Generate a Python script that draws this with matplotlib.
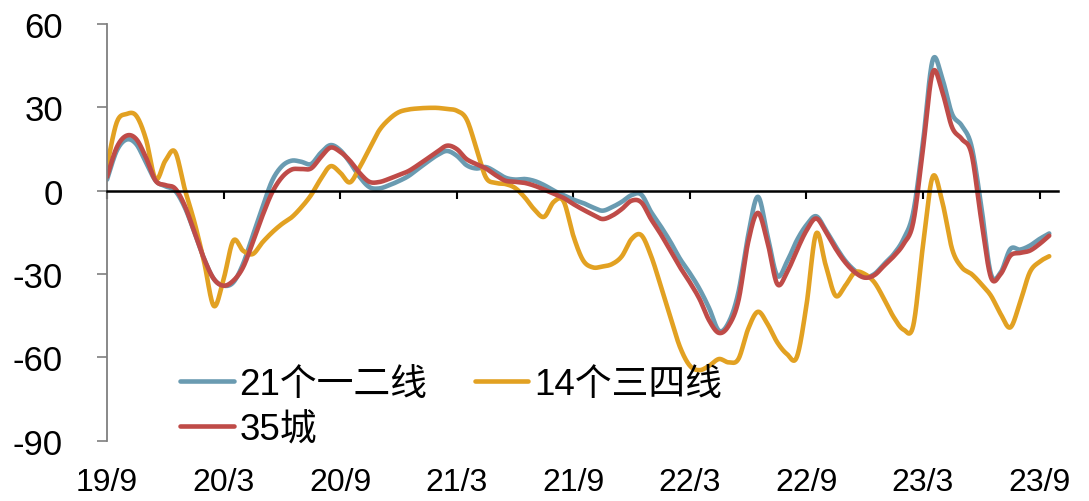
import numpy as np
import matplotlib
matplotlib.use("Agg")
import matplotlib.pyplot as plt
from matplotlib import transforms

plt.rcParams['font.family'] = ['Liberation Sans', 'Noto Sans CJK SC', 'DejaVu Sans']

# Half-monthly readings, Sep 2019 onward (index / 2 = months since 2019-09)
tier12 = [4, 14.4, 18.4, 16.8, 10.2, 3.6, 1.6, 0, -6, -15,
          -24.6, -31.8, -34.2, -33, -26.4, -16.2, -6, 3.6, 8.8, 10.8,
          10.4, 9.6, 13.6, 16.4, 14.6, 10.2, 5, 1.3, 0.8, 1.9,
          3.4, 5.2, 7.8, 10.4, 12.8, 14.3, 12.6, 9.2, 8, 8.5,
          6.8, 4.7, 4, 4.2, 3.5, 2, 0, -1.6, -3.2, -4.4,
          -6, -7.2, -5.9, -4, -1.6, -1.4, -7.6, -12.8, -18.4, -24.6,
          -29.7, -35.4, -42.4, -50.4, -47.4, -36.6, -16.2, -2.2, -16.2, -30.6,
          -25.6, -18, -12.4, -9.2, -14.2, -20, -25.2, -28.8, -31.1, -30,
          -26.4, -22.8, -17.4, -7.8, 17.4, 47, 40.2, 27.6, 23.4, 16,
          -5.5, -30, -29.4, -21, -21.2, -19.8, -17.4, -15.4]

tier34 = [9, 24.6, 27.6, 27, 18.6, 4.2, 10.8, 14, 0.6, -11.4,
          -25.8, -41.5, -31.8, -18, -21.6, -22.8, -18.6, -15, -12, -9.6,
          -6, -1.6, 4.2, 8.8, 6.5, 3, 8.4, 15, 21.6, 25.6,
          28.2, 29.2, 29.6, 29.8, 29.8, 29.4, 28.8, 25.8, 15.6, 4.8,
          2.8, 2.4, 1, -2.4, -6.8, -9.4, -4, -3.8, -16.2, -25,
          -27.6, -27.3, -26.4, -23.6, -17.4, -16, -23.4, -34.2, -45.6, -56.4,
          -63, -64.6, -63, -60.6, -61.8, -60.6, -49.8, -43.6, -48, -54.6,
          -58.8, -60, -41.4, -15.5, -27, -37.8, -34.2, -29.4, -30, -33,
          -39, -45.6, -50, -48.6, -19.8, 5, -4.2, -21, -27.6, -30,
          -33.6, -37.8, -44.4, -49.2, -40.2, -29.4, -25.6, -23.6]

city35 = [5, 15.6, 19.8, 18.6, 12, 3.6, 2, 0.8, -5.4, -15,
          -24.6, -31.8, -34.2, -32.4, -27.6, -18.6, -9, -0.6, 4.8, 7.6,
          7.8, 8, 12, 15.5, 14, 10.8, 6.4, 3.2, 3.1, 4.2,
          5.6, 7, 9.2, 11.6, 14, 16.2, 15, 11.4, 9.6, 8,
          5.6, 3.6, 3.2, 2.8, 1.8, 0.4, -1.1, -2.6, -4.8, -6.8,
          -8.6, -10.2, -9, -6.6, -3.6, -4.2, -10.2, -15.6, -21.6, -27.6,
          -33, -39, -46.8, -51.2, -48.6, -39.6, -18.6, -8, -18.6, -33.6,
          -29.4, -21.6, -14.4, -10, -14.8, -20.8, -25.8, -29.4, -31.3, -30.4,
          -27, -23.6, -19.2, -11.4, 15, 42.5, 35.4, 22.8, 18.6, 13.2,
          -10.4, -31.2, -30, -23.4, -22.4, -21.6, -19.2, -16.2]

tick_labels = ['19/9', '20/3', '20/9', '21/3', '21/9', '22/3', '22/9', '23/3', '23/9']
series_names = ['21个一二线', '14个三四线', '35城']

months = np.arange(len(tier12)) * 0.5


def smooth(x, y, steps=24):
    """Bezier smoothing through every point (Catmull-Rom style control points)."""
    x = np.asarray(x, float)
    y = np.asarray(y, float)
    px = np.concatenate([[x[0]], x, [x[-1]]])
    py = np.concatenate([[y[0]], y, [y[-1]]])
    xs, ys = [], []
    s = np.linspace(0, 1, steps, endpoint=False)
    for i in range(1, len(px) - 2):
        p0 = np.array([px[i], py[i]])
        p3 = np.array([px[i + 1], py[i + 1]])
        c1 = p0 + (np.array([px[i + 1], py[i + 1]]) - np.array([px[i - 1], py[i - 1]])) / 6
        c2 = p3 - (np.array([px[i + 2], py[i + 2]]) - np.array([px[i], py[i]])) / 6
        b = ((1 - s) ** 3)[:, None] * p0 + (3 * (1 - s) ** 2 * s)[:, None] * c1 \
            + (3 * (1 - s) * s ** 2)[:, None] * c2 + (s ** 3)[:, None] * p3
        xs.append(b[:, 0])
        ys.append(b[:, 1])
    xs.append([x[-1]])
    ys.append([y[-1]])
    return np.concatenate(xs), np.concatenate(ys)


fig = plt.figure(figsize=(10.89, 5.02), dpi=100)
ax = fig.add_axes([0.0983, 0.1201, 0.8732, 0.8301])

colors = {'21个一二线': '#6A9BB1', '14个三四线': '#E2A122', '35城': '#BF4B48'}
lines = {}
for name, vals in [('21个一二线', tier12), ('14个三四线', tier34), ('35城', city35)]:
    sx, sy = smooth(months, vals)
    lines[name], = ax.plot(sx, sy, color=colors[name], lw=3.3,
                           solid_capstyle='round', solid_joinstyle='round', label=name)

ax.set_xlim(0, 48.95)
ax.set_ylim(-90, 60)
ax.set_yticks([60, 30, 0, -30, -60, -90])
ax.set_yticklabels(['60', '30', '0', '-30', '-60', '-90'])

for side in ['top', 'right']:
    ax.spines[side].set_visible(False)
ax.spines['left'].set_color('#7F7F7F')
ax.spines['left'].set_linewidth(1.3)
ax.spines['bottom'].set_position(('data', 0))
ax.spines['bottom'].set_color('black')
ax.spines['bottom'].set_linewidth(1.8)

ax.tick_params(axis='y', direction='out', length=7.2, width=1.2, color='#7F7F7F',
               labelsize=25, pad=24.5)
ax.tick_params(axis='x', direction='out', length=6, width=1.5, color='black',
               labelbottom=False)
ax.set_xticks(np.arange(0, 49, 6))

# Date labels sit below the plot area, not at the zero line
trans = transforms.blended_transform_factory(ax.transData, ax.transAxes)
for pos, lab in zip(np.arange(0, 49, 6), tick_labels):
    ax.text(pos, -0.1, lab, transform=trans, ha='center', va='center',
            fontsize=23, clip_on=False)

leg = ax.legend(handles=[lines['21个一二线'], lines['35城'], lines['14个三四线']],
                ncol=2, frameon=False, fontsize=26.5, loc='upper left',
                bbox_to_anchor=(0.077, 0.178), handlelength=1.45, handletextpad=0.15,
                columnspacing=1.3, labelspacing=0.29, borderaxespad=0, borderpad=0)

fig.savefig('out.png', dpi=100)
